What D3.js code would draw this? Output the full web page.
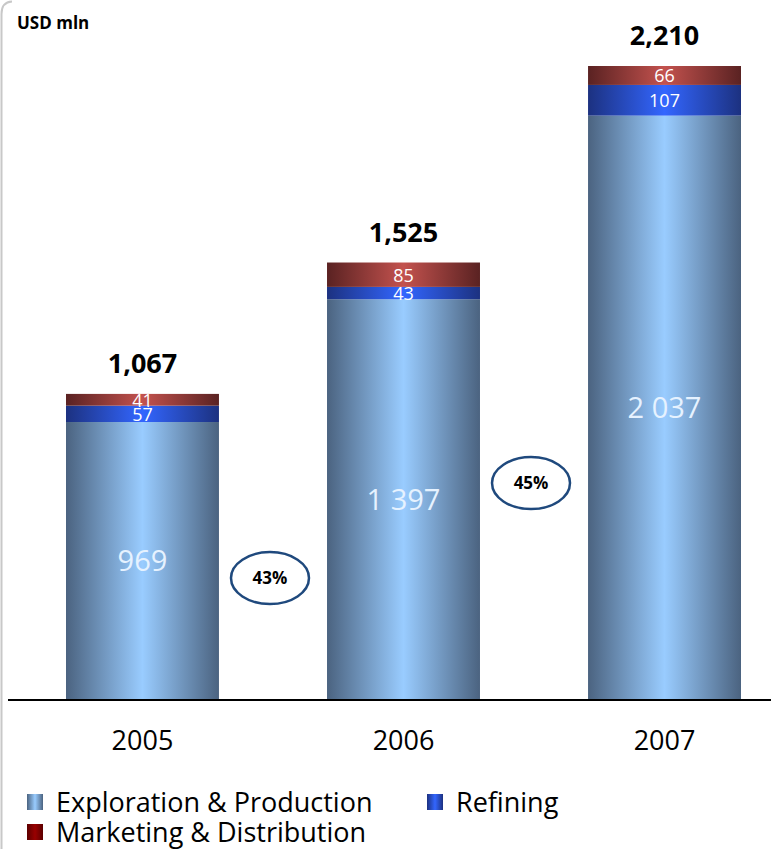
<!DOCTYPE html>
<html>
<head>
<meta charset="utf-8">
<script src="https://cdn.jsdelivr.net/npm/d3@7"></script>
<style>
  html, body { margin: 0; padding: 0; background: #fff; }
  svg { display: block; font-family: "Open Sans", "Noto Sans", sans-serif; }
</style>
</head>
<body>
<div id="chart"></div>
<script>
const years = ['2005', '2006', '2007'];
const exploration = [969, 1397, 2037];
const refining = [57, 43, 107];
const marketing = [41, 85, 66];
const totals = ['1,067', '1,525', '2,210'];
const explorationLabels = ['969', '1 397', '2 037'];
const growthLabels = ['43%', '45%'];
const seriesNames = ['Exploration & Production', 'Refining', 'Marketing & Distribution'];

const width = 771;
const height = 849;
const baseY = 700;

const svg = d3.select('#chart')
  .append('svg')
  .attr('width', width)
  .attr('height', height);

const defs = svg.append('defs');

function addGradient(id, edge, mid) {
  const g = defs.append('linearGradient')
    .attr('id', id)
    .attr('x1', '0%').attr('x2', '100%')
    .attr('y1', '0%').attr('y2', '0%');
  g.append('stop').attr('offset', '0%').attr('stop-color', edge);
  g.append('stop').attr('offset', '50%').attr('stop-color', mid);
  g.append('stop').attr('offset', '100%').attr('stop-color', edge);
}

addGradient('grad-ep', '#4b6380', '#99ccff');
addGradient('grad-ref', '#1c3180', '#3366ff');
addGradient('grad-mkt', '#5a2222', '#c3524e');
addGradient('grad-mkt-legend', '#5c0000', '#990000');

// frame edge on the left
svg.append('path')
  .attr('d', `M1.5,${height} L1.5,14 Q1.5,2 12,1.5`)
  .attr('fill', 'none')
  .attr('stroke', '#c8c8c8')
  .attr('stroke-width', 2);

const rows = years.map((year, i) => ({
  year,
  ep: exploration[i],
  ref: refining[i],
  mkt: marketing[i],
  total: exploration[i] + refining[i] + marketing[i],
}));

const x = d3.scaleBand()
  .domain(years)
  .range([66, 741])
  .paddingInner(0.414)
  .paddingOuter(0);

const y = d3.scaleLinear()
  .domain([0, d3.max(rows, (r) => r.total)])
  .range([baseY, 66]);

const stack = d3.stack().keys(['ep', 'ref', 'mkt'])(rows);
const fills = { ep: 'url(#grad-ep)', ref: 'url(#grad-ref)', mkt: 'url(#grad-mkt)' };

const layers = svg.append('g')
  .selectAll('g')
  .data(stack)
  .enter()
  .append('g')
  .attr('fill', (d) => fills[d.key]);

layers.selectAll('rect')
  .data((d) => d)
  .enter()
  .append('rect')
  .attr('x', (d) => x(d.data.year))
  .attr('width', x.bandwidth())
  .attr('y', (d) => y(d[1]))
  .attr('height', (d) => y(d[0]) - y(d[1]));

// segment value labels
const smallLabels = svg.append('g')
  .attr('fill', '#ffffff')
  .attr('font-size', 18)
  .attr('text-anchor', 'middle');

stack.slice(1).forEach((layer) => {
  smallLabels.selectAll(null)
    .data(layer)
    .enter()
    .append('text')
    .attr('x', (d) => x(d.data.year) + x.bandwidth() / 2)
    .attr('y', (d) => (y(d[0]) + y(d[1])) / 2 + 7)
    .text((d) => d[1] - d[0]);
});

svg.append('g')
  .attr('fill', '#e6f2ff')
  .attr('font-size', 29)
  .attr('text-anchor', 'middle')
  .selectAll('text')
  .data(stack[0])
  .enter()
  .append('text')
  .attr('x', (d) => x(d.data.year) + x.bandwidth() / 2)
  .attr('y', (d) => (y(d[0]) + y(d[1])) / 2 + 10)
  .text((d, i) => explorationLabels[i]);

// totals
svg.append('g')
  .attr('font-size', 27)
  .attr('font-weight', 'bold')
  .attr('text-anchor', 'middle')
  .attr('fill', '#000')
  .selectAll('text')
  .data(rows)
  .enter()
  .append('text')
  .attr('x', (d) => x(d.year) + x.bandwidth() / 2)
  .attr('y', (d) => y(d.total) - 21)
  .text((d, i) => totals[i]);

// baseline + x axis
const axis = svg.append('g')
  .attr('transform', `translate(0,${baseY})`)
  .call(d3.axisBottom(x).tickSize(0).tickPadding(31));
axis.select('.domain').remove();
axis.append('line')
  .attr('x1', 8).attr('x2', width)
  .attr('stroke', '#000')
  .attr('stroke-width', 2);
axis.selectAll('.tick text')
  .attr('font-size', 27)
  .attr('fill', '#000')
  .attr('font-family', '"Open Sans", "Noto Sans", sans-serif');

// growth ellipses between bars, anchored at a level on the value scale
const growthLevels = [425, 756];
const growth = svg.append('g');
growthLabels.forEach((label, i) => {
  const gapStart = x(years[i]) + x.bandwidth();
  const gapEnd = x(years[i + 1]);
  const cx = (gapStart + gapEnd) / 2 - 3;
  const cy = y(growthLevels[i]);
  const g = growth.append('g').attr('transform', `translate(${cx},${cy})`);
  g.append('ellipse')
    .attr('rx', 39)
    .attr('ry', 26)
    .attr('fill', '#fff')
    .attr('stroke', '#1f497d')
    .attr('stroke-width', 2.5);
  g.append('text')
    .attr('text-anchor', 'middle')
    .attr('y', 6)
    .attr('font-size', 17)
    .attr('font-weight', 'bold')
    .text(label);
});

// unit label
svg.append('text')
  .attr('x', 17)
  .attr('y', 29)
  .attr('font-size', 17)
  .attr('font-weight', 'bold')
  .text('USD mln');

// legend
const legendItems = [
  { name: seriesNames[0], x: 27, y: 794, fill: 'url(#grad-ep)' },
  { name: seriesNames[1], x: 427, y: 794, fill: 'url(#grad-ref)' },
  { name: seriesNames[2], x: 27, y: 824, fill: 'url(#grad-mkt-legend)' },
];
const legend = svg.append('g')
  .selectAll('g')
  .data(legendItems)
  .enter()
  .append('g')
  .attr('transform', (d) => `translate(${d.x},${d.y})`);
legend.append('rect')
  .attr('width', 16)
  .attr('height', 16)
  .attr('fill', (d) => d.fill);
legend.append('text')
  .attr('x', 29)
  .attr('y', 18)
  .attr('font-size', 27)
  .text((d) => d.name);
</script>
</body>
</html>
